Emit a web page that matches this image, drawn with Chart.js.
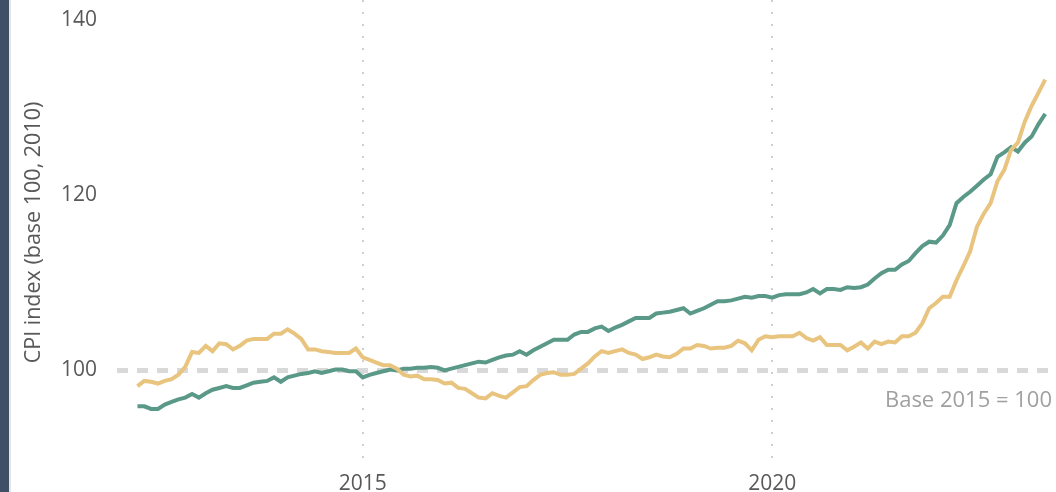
<!DOCTYPE html>
<html>
<head>
<meta charset="utf-8">
<script src="https://cdn.jsdelivr.net/npm/chart.js@4"></script>
<style>
    html, body { margin: 0; padding: 0; background: #fff; overflow: hidden; }
    .side-strip { position: absolute; left: 0; top: 0; width: 9px; height: 492px; background: #3f4f66; border-right: 2px solid #e4e4e4; }
    .chart-wrap { position: absolute; left: 10px; top: 0; width: 1046px; height: 500px; }
</style>
</head>
<body>
<div class="side-strip"></div>
<div class="chart-wrap"><canvas id="cpiChart"></canvas></div>
<script>
// Monthly series start in April 2012
const startYear = 2012;
const startMonth = 4;

const seriesGold = [
    98.2, 98.8, 98.7, 98.5, 98.8, 99.0, 99.5, 100.4, 102.1, 102.0, 102.8, 102.2, 103.1, 103.0, 102.4, 102.8, 103.4, 103.6, 103.6, 103.6, 104.2, 104.2, 104.7,
    104.2, 103.6, 102.4, 102.4, 102.2, 102.1, 102.0, 102.0, 102.0, 102.5, 101.5, 101.2, 100.9, 100.6, 100.6, 100.2, 99.5, 99.3, 99.4, 99.0, 99.0,
    98.9,
    98.5, 98.6, 98.0, 97.9, 97.4, 96.9, 96.8, 97.4, 97.1, 96.9, 97.5, 98.1, 98.2, 98.9, 99.5, 99.7, 99.8, 99.5, 99.5, 99.6, 100.2, 100.8, 101.6,
    102.2, 102.0, 102.2, 102.4, 102.0, 101.8, 101.3, 101.5, 101.8, 101.6, 101.5, 101.9, 102.5, 102.5, 102.9, 102.8, 102.5, 102.6, 102.6, 102.8, 103.4, 103.1,
    102.3, 103.5, 103.9, 103.8, 103.9, 103.9, 103.9, 104.3, 103.7, 103.4, 103.8, 102.9, 102.9, 102.9, 102.3, 102.7, 103.2, 102.5, 103.3, 103.0, 103.3, 103.2, 103.9,
    103.9, 104.3, 105.4, 107.1, 107.7, 108.4, 108.4, 110.3, 111.9, 113.6, 116.4, 117.9, 119.1, 121.6, 122.9, 125.2, 126.0, 128.4, 130.2, 131.7, 133.2
];

const seriesGreen = [
    95.9, 95.9, 95.6, 95.6, 96.1, 96.4, 96.7, 96.9, 97.3, 96.9, 97.4, 97.8, 98.0, 98.2, 98.0, 98.0, 98.3, 98.6, 98.7, 98.8, 99.2, 98.7, 99.2,
    99.4, 99.6, 99.7, 99.9, 99.7, 99.9, 100.1, 100.1, 99.9, 99.9, 99.2, 99.5, 99.7, 99.9, 100.1, 100.0, 100.2, 100.2, 100.3, 100.3, 100.4,
    100.3,
    100.0, 100.2, 100.4, 100.6, 100.8, 101.0, 100.9, 101.2, 101.5, 101.7, 101.8, 102.2, 101.8, 102.3, 102.7, 103.1, 103.5, 103.5, 103.5, 104.1, 104.4, 104.4, 104.8,
    105.0, 104.5, 104.9, 105.2, 105.6, 106.0, 106.0, 106.0, 106.5, 106.6, 106.7, 106.9, 107.1, 106.5, 106.8, 107.1, 107.5, 107.9, 107.9, 108.0, 108.2, 108.4,
    108.3, 108.5, 108.5, 108.3, 108.6, 108.7, 108.7, 108.7, 108.9, 109.3, 108.8, 109.3, 109.3, 109.2, 109.5, 109.4, 109.5, 109.8, 110.5, 111.1, 111.5, 111.5, 112.1,
    112.5, 113.4, 114.2, 114.7, 114.6, 115.4, 116.6, 119.1, 119.8, 120.4, 121.1, 121.8, 122.4, 124.4, 124.9, 125.5, 125.0, 126.0, 126.7, 128.1, 129.3
];

const xTicks = [2015, 2020];
const yTicks = [100, 120, 140];
const baseValue = 100;
const baseLabelText = 'Base 2015 = 100';
const yTitle = 'CPI index (base 100, 2010)';

// Colors
const colors = {
    gold: '#e8c47f',
    green: '#5a9888',
    text: '#595959',
    baseLine: '#d9d9d9',
    baseText: '#a0a0a0',
    grid: '#cfcfcf'
};

const fontFamily = "'Open Sans', 'Noto Sans', sans-serif";

// Turn month index into a decimal year
function toPoints(values) {
    return values.map((v, i) => ({ x: startYear + (startMonth - 1 + i) / 12, y: v }));
}

// Label under the base line
const baseLabel = {
    id: 'baseLabel',
    afterDraw(chart) {
        const { ctx, chartArea, scales } = chart;
        ctx.save();
        ctx.font = '22px ' + fontFamily;
        ctx.fillStyle = colors.baseText;
        ctx.textAlign = 'right';
        ctx.textBaseline = 'middle';
        ctx.fillText(baseLabelText, chartArea.right - 4, scales.y.getPixelForValue(baseValue) + 30);
        ctx.restore();
    }
};

function initCpiChart() {
    const ctx = document.getElementById('cpiChart').getContext('2d');

    new Chart(ctx, {
        type: 'line',
        data: {
            datasets: [{
                data: toPoints(seriesGold),
                borderColor: colors.gold,
                borderWidth: 4,
                pointRadius: 0,
                tension: 0
            }, {
                data: toPoints(seriesGreen),
                borderColor: colors.green,
                borderWidth: 4,
                pointRadius: 0,
                tension: 0
            }]
        },
        options: {
            responsive: true,
            maintainAspectRatio: false,
            animation: false,
            layout: { padding: 0 },
            plugins: {
                legend: { display: false },
                tooltip: { enabled: false }
            },
            scales: {
                x: {
                    type: 'linear',
                    min: 2012.0,
                    max: 2023.465,
                    afterBuildTicks: scale => { scale.ticks = xTicks.map(v => ({ value: v })); },
                    afterFit: scale => {
                        scale.height = 35;
                        scale.paddingLeft = 0;
                        scale.paddingRight = 0;
                    },
                    ticks: {
                        padding: 6,
                        color: colors.text,
                        font: { family: fontFamily, size: 21 },
                        callback: value => String(value)
                    },
                    grid: {
                        color: colors.grid,
                        lineWidth: 2,
                        drawTicks: false
                    },
                    border: { display: false, dash: [2, 10] }
                },
                y: {
                    min: 89.2,
                    max: 142.3,
                    afterBuildTicks: scale => { scale.ticks = yTicks.map(v => ({ value: v })); },
                    afterFit: scale => {
                        scale.width = 107;
                        scale.paddingTop = 0;
                        scale.paddingBottom = 0;
                    },
                    ticks: {
                        padding: 20,
                        color: colors.text,
                        font: { family: fontFamily, size: 21 }
                    },
                    grid: {
                        color: c => (c.tick && c.tick.value === baseValue) ? colors.baseLine : 'transparent',
                        lineWidth: 5,
                        drawTicks: false
                    },
                    border: { display: false, dash: [11, 9] },
                    title: {
                        display: true,
                        text: yTitle,
                        color: colors.text,
                        font: { family: fontFamily, size: 21.5 },
                        padding: { top: 11, bottom: 0 }
                    }
                }
            }
        },
        plugins: [baseLabel]
    });
}

initCpiChart();
</script>
</body>
</html>
